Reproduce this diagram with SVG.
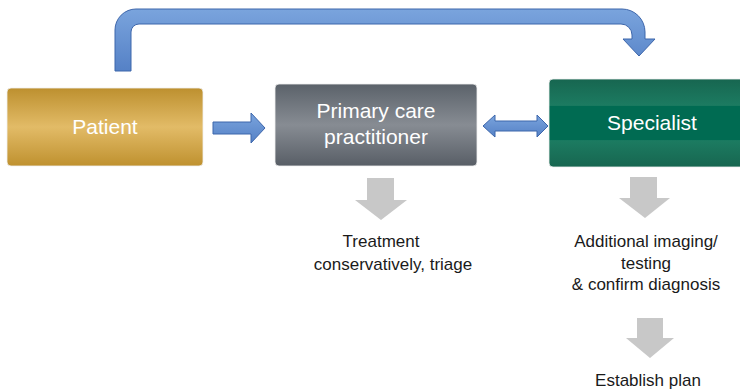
<svg xmlns="http://www.w3.org/2000/svg" width="740" height="391" viewBox="0 0 740 391">
<defs>
<linearGradient id="gPat" x1="0" y1="0" x2="0" y2="1">
<stop offset="0" stop-color="#bd902f"/>
<stop offset="0.5" stop-color="#e2bb67"/>
<stop offset="1" stop-color="#bf912f"/>
</linearGradient>
<linearGradient id="gPcp" x1="0" y1="0" x2="0" y2="1">
<stop offset="0" stop-color="#5b626a"/>
<stop offset="0.5" stop-color="#878c93"/>
<stop offset="1" stop-color="#585e66"/>
</linearGradient>
<linearGradient id="gSpec" x1="0" y1="0" x2="0" y2="1">
<stop offset="0" stop-color="#176650"/>
<stop offset="0.3" stop-color="#1c7b61"/>
<stop offset="0.31" stop-color="#006b52"/>
<stop offset="0.69" stop-color="#006b52"/>
<stop offset="0.7" stop-color="#1c7b61"/>
<stop offset="1" stop-color="#176650"/>
</linearGradient>
<linearGradient id="gBlue" x1="0" y1="0" x2="0" y2="1">
<stop offset="0" stop-color="#7aa4dd"/>
<stop offset="1" stop-color="#5581c6"/>
</linearGradient>
<style>
.lbl{font-family:"Liberation Sans",Arial,Helvetica,sans-serif;font-size:21px;fill:#ffffff;text-anchor:middle}
.txt{font-family:"Liberation Sans",Arial,Helvetica,sans-serif;font-size:17px;fill:#1a1a1a;text-anchor:middle}
.blue{fill:url(#gBlue);stroke:#3d66ab;stroke-width:1}
.gray{fill:#c8c8c8}
.box{stroke:#f0f0f0;stroke-width:0.8}
</style>
</defs>
<rect width="740" height="391" fill="#ffffff"/>
<g id="connectors">
<path class="blue" d="M115,71 L115,30 A21,21 0 0 1 136,9 L622,9 A23,23 0 0 1 645,32 L645,39 L655,39 L639,56 L623,39 L632,39 L632,35 A11,11 0 0 0 621,24 L139,24 A8,8 0 0 0 131,32 L131,71 Z"/>
<path class="blue" d="M213,122 L251,122 L251,113 L265,128 L251,143 L251,134 L213,134 Z"/>
<path class="blue" d="M483,126 L495,115 L495,121 L537,121 L537,115 L548,126 L537,137 L537,131 L495,131 L495,137 Z"/>
<path class="gray" d="M367,178 L394,178 L394,200 L407,200 L381,220 L355,200 L367,200 Z"/>
<path class="gray" d="M630,177 L657,177 L657,198 L670,198 L645,218 L619,198 L630,198 Z"/>
<path class="gray" d="M637,318 L663,318 L663,338 L674,338 L650,358 L626,338 L637,338 Z"/>
</g>
<g id="patient">
<rect class="box" x="7" y="88" width="196" height="78" rx="4" fill="url(#gPat)"/>
<text class="lbl" x="105" y="134">Patient</text>
</g>
<g id="primary-care">
<rect class="box" x="275" y="84" width="202" height="82" rx="4" fill="url(#gPcp)"/>
<text class="lbl" x="376" y="118">Primary care</text>
<text class="lbl" x="376" y="144">practitioner</text>
</g>
<g id="specialist">
<rect class="box" x="549" y="79" width="196" height="88" rx="4" fill="url(#gSpec)"/>
<text class="lbl" x="652" y="130">Specialist</text>
</g>
<g id="treatment">
<text class="txt" x="381" y="247">Treatment</text>
<text class="txt" x="393" y="270">conservatively, triage</text>
</g>
<g id="imaging">
<text class="txt" x="646" y="247">Additional imaging/</text>
<text class="txt" x="646" y="269">testing</text>
<text class="txt" x="646" y="290">&amp; confirm diagnosis</text>
</g>
<g id="plan">
<text class="txt" x="648" y="386">Establish plan</text>
</g>
</svg>
